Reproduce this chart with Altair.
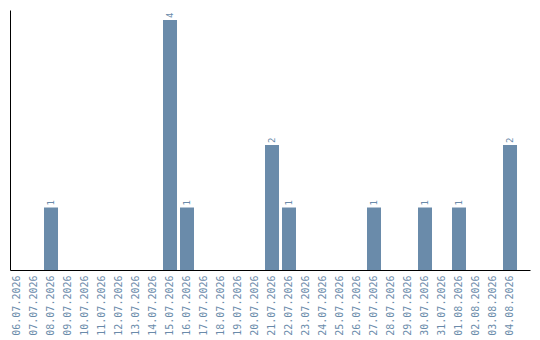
import altair as alt
import pandas as pd

dates = [
    "06.07.2026", "07.07.2026", "08.07.2026", "09.07.2026", "10.07.2026",
    "11.07.2026", "12.07.2026", "13.07.2026", "14.07.2026", "15.07.2026",
    "16.07.2026", "17.07.2026", "18.07.2026", "19.07.2026", "20.07.2026",
    "21.07.2026", "22.07.2026", "23.07.2026", "24.07.2026", "25.07.2026",
    "26.07.2026", "27.07.2026", "28.07.2026", "29.07.2026", "30.07.2026",
    "31.07.2026", "01.08.2026", "02.08.2026", "03.08.2026", "04.08.2026",
]
counts = [0, 0, 1, 0, 0, 0, 0, 0, 0, 4,
          1, 0, 0, 0, 0, 2, 1, 0, 0, 0,
          0, 1, 0, 0, 1, 0, 1, 0, 0, 2]

df = pd.DataFrame({"date": dates, "count": counts})

BAR = "#6a8baa"
FONT = "DejaVu Sans Mono"

x = alt.X(
    "date:N",
    sort=dates,
    scale=alt.Scale(paddingInner=0.176, paddingOuter=0.382, align=0),
    axis=alt.Axis(
        title=None, labelAngle=-90, labelColor=BAR, labelFont=FONT,
        labelFontSize=10, ticks=False, labelPadding=5, domainColor="black",
        domainWidth=1, labelOverlap=False,
    ),
)
y = alt.Y(
    "count:Q",
    scale=alt.Scale(domain=[0, 4.16], nice=False),
    axis=alt.Axis(title=None, labels=False, ticks=False, grid=False,
                  domainColor="black", domainWidth=1),
)

bars = alt.Chart(df).mark_bar(color=BAR).encode(x=x, y=y)

labels = alt.Chart(df).transform_filter("datum.count > 0").mark_text(
    angle=270, align="left", baseline="middle", dx=2,
    font=FONT, fontSize=9, color=BAR,
).encode(x=alt.X("date:N", sort=dates), y="count:Q", text="count:Q")

chart = (bars + labels).properties(
    width=520, height=260,
    autosize=alt.AutoSizeParams(type="none"),
    padding={"left": 10, "top": 10, "right": 10, "bottom": 70},
).configure_view(stroke=None).configure_axis(grid=False)

chart.save("out.html", embed_options={"renderer": "svg", "actions": False})
